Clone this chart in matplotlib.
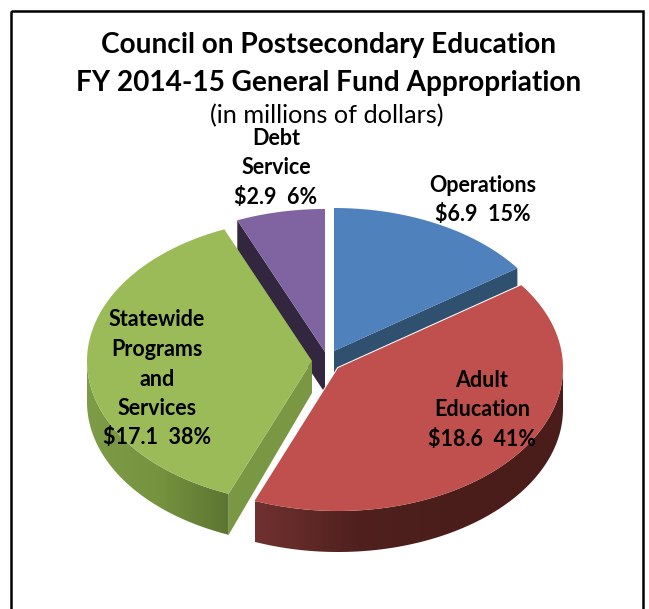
import numpy as np
import matplotlib
matplotlib.use("Agg")
import matplotlib.pyplot as plt
from matplotlib.colors import LinearSegmentedColormap
from matplotlib.patches import Polygon, Rectangle

# data
names = ["Operations", "Adult\nEducation", "Statewide\nPrograms\nand\nServices", "Debt\nService"]
values = [6.9, 18.6, 17.1, 2.9]
percents = [15, 41, 38, 6]

# layout, in pixels of the 649x609 picture
colors = ["#4f81bd", "#c0504d", "#9bbb59", "#8064a2"]
wall_colors = ["#30506f", "#4b1e1c", "#7a9743", "#33263f"]
centers = [(334, 351), (338, 368), (312, 361), (325, 352)]
label_pos = [(483, 200), (482, 410), (157, 379), (276, 168)]
rx, ry, depth = 225, 143, 41

plt.rcParams['font.family'] = ['Lato', 'DejaVu Sans']

fig = plt.figure(figsize=(6.49, 6.09), dpi=100)
ax = fig.add_axes([0, 0, 1, 1])
ax.axis('off')

ax.add_patch(Rectangle((11, 11), 632, 640, fill=False, ec='black', lw=1.8))

edges = np.concatenate([[0], np.cumsum(values)]) / np.sum(values) * 2 * np.pi


def arc(i, t0, t1, n=80):
    t = np.linspace(t0, t1, n)
    cx, cy = centers[i]
    return cx + rx * np.sin(t), cy - ry * np.cos(t)


def top(i, z):
    x, y = arc(i, edges[i], edges[i + 1])
    pts = np.column_stack([np.r_[centers[i][0], x], np.r_[centers[i][1], y]])
    ax.add_patch(Polygon(pts, closed=True, fc=colors[i], ec='none', zorder=z))


def flat_wall(i, t, z, apex_depth=depth):
    x, y = arc(i, t, t, 1)
    cx, cy = centers[i]
    pts = [(cx, cy), (x[0], y[0]), (x[0], y[0] + depth), (cx, cy + apex_depth)]
    ax.add_patch(Polygon(pts, closed=True, fc=wall_colors[i], ec='none', zorder=z))


def round_wall(i, t0, t1, wall_cols, z):
    # outer wall, shaded left to right with a gradient clipped to its outline
    x, y = arc(i, t0, t1, 120)
    pts = np.column_stack([np.r_[x, x[::-1]], np.r_[y, y[::-1] + depth]])
    outline = Polygon(pts, closed=True, fc='none', ec='none', zorder=z)
    ax.add_patch(outline)
    cmap = LinearSegmentedColormap.from_list("wall", wall_cols)
    grad = np.linspace(0, 1, 256).reshape(1, -1)
    im = ax.imshow(grad, cmap=cmap, aspect='auto', zorder=z,
                   extent=(x.min(), x.max(), pts[:, 1].max(), pts[:, 1].min()))
    im.set_clip_path(outline)


# back to front
flat_wall(3, edges[3], 1)
flat_wall(0, edges[1], 1)
top(3, 2)
top(0, 2)
flat_wall(2, edges[2], 3, apex_depth=32)
round_wall(2, edges[2], 1.5 * np.pi, ["#7e9b47", "#76933f", "#5c7531"], 3)
top(2, 4)
# straight edge of the red slice keeps a thin white line against the green wall
round_wall(1, edges[2], 0.5 * np.pi, ["#703230", "#4f201e", "#4a1d1b", "#4a1d1b"], 5)
x, y = arc(1, edges[1], edges[2])
ax.plot([x[-1], centers[1][0], x[0]], [y[-1], centers[1][1], y[0]], color='white', lw=1.5, zorder=5)
top(1, 6)

ax.set_xlim(0, 649)
ax.set_ylim(609, 0)

ax.text(329, 45, "Council on Postsecondary Education", ha='center', va='center',
        fontsize=20.2, fontweight='bold', color='black')
ax.text(329, 83, "FY 2014-15 General Fund Appropriation", ha='center', va='center',
        fontsize=20.2, fontweight='bold', color='black')
ax.text(327, 116, "(in millions of dollars)", ha='center', va='center', fontsize=18.2, color='black')

for i in range(4):
    label = "%s\n$%.1f  %d%%" % (names[i], values[i], percents[i])
    ax.text(label_pos[i][0], label_pos[i][1], label, ha='center', va='center', fontsize=15.5,
            fontweight='bold', color='black', linespacing=1.5, zorder=10)

fig.savefig("out.png", dpi=100)
